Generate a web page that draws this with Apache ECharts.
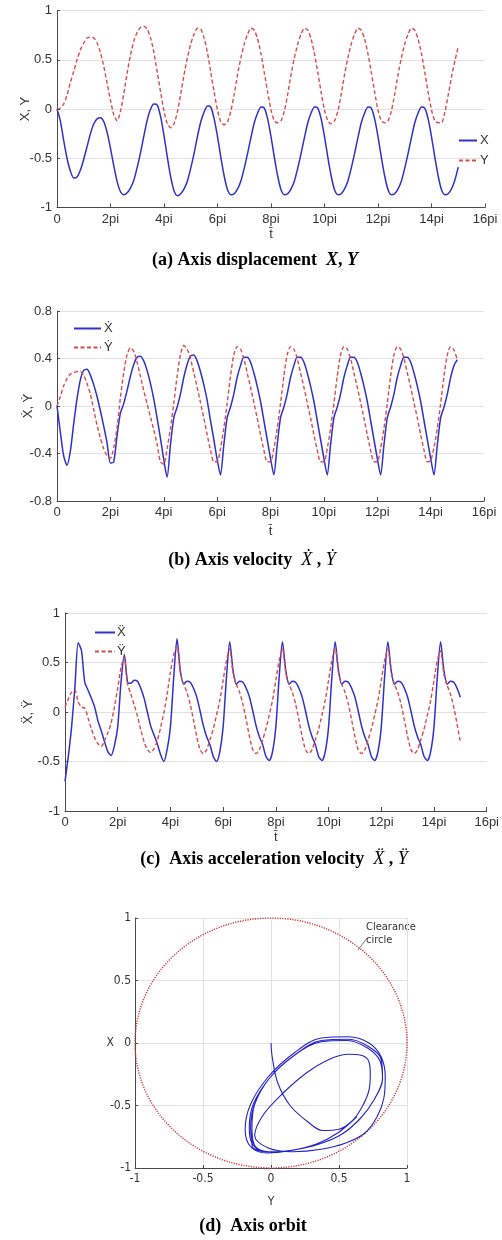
<!DOCTYPE html>
<html>
<head>
<meta charset="utf-8">
<script src="https://cdn.jsdelivr.net/npm/echarts@6/dist/echarts.min.js"></script>
<style>
html,body{margin:0;padding:0;background:#fff;}
#c{width:502px;height:1240px;}
</style>
</head>
<body>
<div id="c"></div>
<script>
// time sample spacing (in units of pi) for every time series below
const T_STEP = 0.125;
const tTickLabels = ['0','2pi','4pi','6pi','8pi','10pi','12pi','14pi','16pi'];

// (a) axis displacement
const dispX = [
  0,-0.12,-0.32,-0.50,-0.63,-0.70,-0.69,-0.62,-0.51,-0.38,-0.25,-0.15,-0.10,-0.09,-0.13,-0.24,-0.40,-0.58,-0.74,-0.84,
  -0.87,-0.85,-0.80,-0.72,-0.59,-0.44,-0.27,-0.11,0.00,0.05,0.04,-0.08,-0.27,-0.49,-0.69,-0.83,
  -0.88,-0.86,-0.81,-0.73,-0.60,-0.45,-0.28,-0.13,-0.03,0.03,0.02,-0.10,-0.28,-0.49,-0.68,-0.82,
  -0.87,-0.86,-0.81,-0.73,-0.60,-0.45,-0.29,-0.14,-0.04,0.02,0.01,-0.10,-0.28,-0.49,-0.68,-0.82,
  -0.87,-0.86,-0.81,-0.73,-0.60,-0.45,-0.29,-0.14,-0.04,0.02,0.01,-0.10,-0.28,-0.49,-0.68,-0.82,
  -0.87,-0.86,-0.81,-0.73,-0.60,-0.45,-0.29,-0.14,-0.04,0.02,0.01,-0.10,-0.28,-0.49,-0.68,-0.82,
  -0.87,-0.86,-0.81,-0.73,-0.60,-0.45,-0.29,-0.14,-0.04,0.02,0.01,-0.10,-0.28,-0.49,-0.68,-0.82,
  -0.87,-0.86,-0.81,-0.72,-0.59
];
const dispY = [
  0,0.01,0.05,0.14,0.27,0.38,0.50,0.60,0.67,0.72,0.73,0.72,0.67,0.57,0.43,0.26,0.09,-0.06,-0.12,-0.02,
  0.16,0.37,0.55,0.69,0.78,0.83,0.84,0.81,0.72,0.57,0.37,0.17,-0.02,-0.15,
  -0.19,-0.15,-0.03,0.15,0.35,0.52,0.66,0.76,0.82,0.81,0.72,0.57,0.37,0.17,-0.01,-0.13,
  -0.16,-0.13,-0.02,0.15,0.35,0.52,0.66,0.76,0.82,0.80,0.71,0.56,0.37,0.17,-0.01,-0.12,
  -0.14,-0.12,-0.02,0.15,0.35,0.52,0.66,0.76,0.82,0.80,0.71,0.56,0.37,0.17,-0.01,-0.12,
  -0.15,-0.12,-0.02,0.15,0.35,0.52,0.66,0.76,0.82,0.80,0.71,0.56,0.37,0.17,-0.01,-0.12,
  -0.14,-0.12,-0.02,0.15,0.35,0.52,0.66,0.76,0.82,0.80,0.71,0.56,0.37,0.17,-0.01,-0.12,
  -0.14,-0.14,-0.03,0.14,0.33,0.49,0.63
];

// (b) axis velocity
const velX = [
  0,-0.22,-0.42,-0.50,-0.38,-0.15,0.06,0.22,0.30,0.31,0.26,0.18,0.08,-0.04,-0.17,-0.31,-0.48,-0.47,-0.25,-0.06,
  0.02,0.13,0.25,0.35,0.41,0.42,0.38,0.30,0.19,0.06,-0.10,-0.27,-0.45,
  -0.60,-0.33,-0.10,-0.01,0.10,0.24,0.35,0.42,0.43,0.38,0.29,0.18,0.05,-0.12,-0.28,-0.45,
  -0.58,-0.33,-0.10,-0.01,0.10,0.24,0.34,0.41,0.41,0.37,0.28,0.17,0.04,-0.12,-0.28,-0.44,
  -0.58,-0.33,-0.10,-0.01,0.10,0.24,0.34,0.41,0.41,0.37,0.28,0.17,0.04,-0.12,-0.28,-0.44,
  -0.58,-0.33,-0.10,-0.01,0.10,0.24,0.34,0.41,0.41,0.37,0.28,0.17,0.04,-0.12,-0.28,-0.44,
  -0.58,-0.33,-0.10,-0.01,0.10,0.24,0.34,0.41,0.41,0.37,0.28,0.17,0.04,-0.12,-0.28,-0.44,
  -0.58,-0.33,-0.10,-0.01,0.10,0.24,0.34,0.39
];
const velY = [
  0,0.08,0.17,0.23,0.27,0.28,0.29,0.29,0.26,0.19,0.10,-0.03,-0.16,-0.27,-0.36,-0.42,-0.44,-0.35,-0.18,0.07,
  0.28,0.43,0.49,0.46,0.37,0.25,0.13,0.02,-0.09,-0.20,-0.32,
  -0.47,-0.49,-0.36,-0.19,0.02,0.25,0.43,0.51,0.48,0.40,0.28,0.16,0.03,-0.10,-0.24,-0.37,
  -0.47,-0.47,-0.36,-0.19,0.02,0.25,0.43,0.50,0.48,0.40,0.28,0.16,0.03,-0.10,-0.24,-0.37,
  -0.47,-0.47,-0.36,-0.19,0.02,0.25,0.43,0.50,0.48,0.40,0.28,0.16,0.03,-0.10,-0.24,-0.37,
  -0.47,-0.47,-0.36,-0.19,0.02,0.25,0.43,0.50,0.48,0.40,0.28,0.16,0.03,-0.10,-0.24,-0.37,
  -0.47,-0.47,-0.36,-0.19,0.02,0.25,0.43,0.50,0.48,0.40,0.28,0.16,0.03,-0.10,-0.24,-0.37,
  -0.47,-0.46,-0.35,-0.19,0.02,0.25,0.43,0.50,0.47,0.39
];

// (c) axis acceleration
const accX = [
  -0.70,-0.45,-0.15,0.25,0.70,0.62,0.30,0.22,0.14,0.05,-0.09,-0.19,-0.30,-0.40,-0.44,-0.34,-0.15,0.30,0.58,0.30,
  0.29,0.32,0.31,0.24,0.14,0.00,-0.14,-0.23,-0.32,-0.43,-0.50,-0.38,-0.15,0.35,
  0.74,0.42,0.28,0.31,0.30,0.24,0.15,0.01,-0.14,-0.25,-0.33,-0.45,-0.50,-0.40,-0.15,0.35,
  0.71,0.42,0.28,0.31,0.30,0.24,0.15,0.01,-0.14,-0.25,-0.33,-0.45,-0.49,-0.40,-0.15,0.35,
  0.71,0.42,0.28,0.31,0.30,0.24,0.15,0.01,-0.14,-0.25,-0.33,-0.45,-0.49,-0.40,-0.15,0.35,
  0.71,0.42,0.28,0.31,0.30,0.24,0.15,0.01,-0.14,-0.25,-0.33,-0.45,-0.49,-0.40,-0.15,0.35,
  0.71,0.42,0.28,0.31,0.30,0.24,0.15,0.01,-0.14,-0.25,-0.33,-0.45,-0.49,-0.40,-0.15,0.35,
  0.71,0.42,0.28,0.31,0.30,0.24,0.15
];
const accY = [
  0.05,0.13,0.20,0.22,0.10,0.05,0.04,-0.06,-0.17,-0.26,-0.32,-0.35,-0.29,-0.21,-0.11,0.05,0.24,0.45,0.55,0.28,
  0.18,0.07,-0.04,-0.18,-0.30,-0.38,-0.41,-0.37,-0.29,-0.16,-0.01,0.18,0.40,0.58,
  0.66,0.40,0.28,0.20,0.08,-0.08,-0.25,-0.38,-0.42,-0.38,-0.28,-0.17,-0.03,0.12,0.32,0.52,
  0.64,0.40,0.28,0.20,0.08,-0.08,-0.25,-0.38,-0.42,-0.38,-0.28,-0.17,-0.03,0.12,0.32,0.52,
  0.64,0.40,0.28,0.20,0.08,-0.08,-0.25,-0.38,-0.42,-0.38,-0.28,-0.17,-0.03,0.12,0.32,0.52,
  0.64,0.40,0.28,0.20,0.08,-0.08,-0.25,-0.38,-0.42,-0.38,-0.28,-0.17,-0.03,0.12,0.32,0.52,
  0.64,0.40,0.28,0.20,0.08,-0.08,-0.25,-0.38,-0.42,-0.38,-0.28,-0.17,-0.03,0.12,0.32,0.52,
  0.62,0.38,0.27,0.18,0.05,-0.12,-0.30
];

// (d) orbit: clearance circle radius
const clearanceRadius = 1;

const BLUE = '#3030cc';
const RED = '#dc4a4a';
const AX = '#4a4a4a';
const GRID = '#e2e2e2';
const SANS = 'Liberation Sans, Arial, sans-serif';
const NARROW = 'Liberation Sans Narrow, DejaVu Sans Condensed, Liberation Sans, sans-serif';
const SERIF = 'Liberation Serif, Times New Roman, serif';

function toPts(arr){ return arr.map((v,i)=>[i*T_STEP, v]); }
const orbit = dispY.map((y,i)=>[y, dispX[i]]);
const circle = [];
for (let k=0;k<=360;k++){ const a=k*Math.PI/180; circle.push([clearanceRadius*Math.cos(a), clearanceRadius*Math.sin(a)]); }

function tAxis(gi, gap){
  return {
    type:'value', gridIndex:gi, min:0, max:16, interval:2,
    axisLine:{show:true, onZero:false, lineStyle:{color:AX, width:1}},
    axisTick:{show:true, inside:true, length:4, lineStyle:{color:AX}},
    splitLine:{show:false},
    axisLabel:{fontFamily:SANS, fontSize:13, color:'#333', margin:5,
      formatter:(v)=>tTickLabels[Math.round(v/2)]},
    name:'t\u0304', nameLocation:'middle', nameGap:gap, nameMoveOverlap:false,
    nameTextStyle:{fontFamily:SANS, fontSize:13, color:'#333'}
  };
}
function vAxis(gi, mn, mx, iv, name, gap){
  return {
    type:'value', gridIndex:gi, min:mn, max:mx, interval:iv,
    axisLine:{show:true, onZero:false, lineStyle:{color:AX, width:1}},
    axisTick:{show:true, inside:true, length:3, lineStyle:{color:AX}},
    splitLine:{show:true, lineStyle:{color:GRID, width:1}},
    axisLabel:{fontFamily:SANS, fontSize:13, color:'#333', margin:5},
    name:name, nameLocation:'middle', nameGap:gap, nameRotate:90, nameMoveOverlap:false,
    nameTextStyle:{fontFamily:SANS, fontSize:13, color:'#333'}
  };
}
function lineSeries(name, gi, data, color, dashed){
  return {
    name:name, type:'line', xAxisIndex:gi, yAxisIndex:gi, data:data,
    symbol:'none', showSymbol:false, smooth:0.25,
    lineStyle:{color:color, width:dashed?1.4:1.5, type:dashed?[4,2.5]:'solid'},
    itemStyle:{color:color}, z:dashed?3:2
  };
}
const legendCommon = {orient:'vertical', itemHeight:12, itemStyle:{opacity:0}};

const chart = echarts.init(document.getElementById('c'), null, {renderer:'canvas'});
chart.setOption({
  animation:false,
  backgroundColor:'#fff',
  grid:[
    {left:57, top:10.5, width:428, height:197},
    {left:57, top:311, width:427, height:190},
    {left:65, top:613, width:422, height:198},
    {left:135, top:918, width:272, height:250}
  ],
  xAxis:[
    tAxis(0, 20),
    tAxis(1, 24),
    tAxis(2, 20),
    {type:'value', gridIndex:3, min:-1, max:1, interval:0.5,
     axisLine:{show:true, onZero:false, lineStyle:{color:AX}},
     axisTick:{show:true, inside:true, length:3, lineStyle:{color:AX}},
     splitLine:{show:true, lineStyle:{color:GRID}},
     axisLabel:{fontFamily:NARROW, fontSize:12, color:'#333', margin:5},
     name:'Y', nameLocation:'middle', nameGap:28, nameMoveOverlap:false,
     nameTextStyle:{fontFamily:NARROW, fontSize:12, color:'#333'}}
  ],
  yAxis:[
    vAxis(0, -1, 1, 0.5, 'X, Y', 25),
    vAxis(1, -0.8, 0.8, 0.4, '\u1E8A, \u1E8E', 22),
    vAxis(2, -1, 1, 0.5, '\u1E8C, \u0178', 30),
    {type:'value', gridIndex:3, min:-1, max:1, interval:0.5,
     axisLine:{show:true, onZero:false, lineStyle:{color:AX}},
     axisTick:{show:true, inside:true, length:3, lineStyle:{color:AX}},
     splitLine:{show:true, lineStyle:{color:GRID}},
     axisLabel:{fontFamily:NARROW, fontSize:12, color:'#333', margin:4},
     name:'X', nameLocation:'middle', nameGap:21, nameRotate:0, nameMoveOverlap:false,
     nameTextStyle:{fontFamily:NARROW, fontSize:12, color:'#333'}}
  ],
  legend:[
    Object.assign({data:['X','Y'], left:453, top:129, itemWidth:18, itemGap:7,
     textStyle:{fontFamily:SANS, fontSize:13, color:'#333', padding:[0,0,0,-2]}}, legendCommon),
    Object.assign({data:['\u1E8A','\u1E8E'], left:68, top:317, itemWidth:27, itemGap:6,
     textStyle:{fontFamily:SANS, fontSize:13, color:'#333', padding:[0,0,0,-2]}}, legendCommon),
    Object.assign({data:['\u1E8C','\u0178'], left:89, top:621, itemWidth:20, itemGap:6,
     textStyle:{fontFamily:SANS, fontSize:13, color:'#333', padding:[0,0,0,-3]}}, legendCommon)
  ],
  series:[
    lineSeries('X', 0, toPts(dispX), BLUE, false),
    lineSeries('Y', 0, toPts(dispY), RED, true),
    lineSeries('\u1E8A', 1, toPts(velX), BLUE, false),
    lineSeries('\u1E8E', 1, toPts(velY), RED, true),
    lineSeries('\u1E8C', 2, toPts(accX), BLUE, false),
    lineSeries('\u0178', 2, toPts(accY), RED, true),
    {name:'Clearance circle', type:'line', xAxisIndex:3, yAxisIndex:3, data:circle,
     symbol:'none', smooth:false, lineStyle:{color:'#d23c3c', width:1.5, type:[1.2,1.3]}, z:2},
    {name:'Orbit', type:'line', xAxisIndex:3, yAxisIndex:3, data:orbit,
     symbol:'none', smooth:0.35, lineStyle:{color:'#2424c8', width:1.1}, z:3}
  ],
  graphic:[
    {type:'text', x:255, y:260, style:{text:'{b|(a) Axis displacement  }{bi|X}{b|, }{bi|Y}', align:'center', verticalAlign:'middle',
      rich:{b:{fontFamily:SERIF, fontWeight:'bold', fontSize:18, fill:'#000'}, bi:{fontFamily:SERIF, fontWeight:'bold', fontStyle:'italic', fontSize:18, fill:'#000'}}}},
    {type:'text', x:252, y:560, style:{text:'{b|(b) Axis velocity  }{i|\u1E8A}{b| , }{i|\u1E8E}', align:'center', verticalAlign:'middle',
      rich:{b:{fontFamily:SERIF, fontWeight:'bold', fontSize:18, fill:'#000'}, i:{fontFamily:SERIF, fontStyle:'italic', fontSize:18, fill:'#000'}}}},
    {type:'text', x:274, y:859, style:{text:'{b|(c)  Axis acceleration velocity  }{i|\u1E8C}{b| , }{i|\u0178}', align:'center', verticalAlign:'middle',
      rich:{b:{fontFamily:SERIF, fontWeight:'bold', fontSize:18, fill:'#000'}, i:{fontFamily:SERIF, fontStyle:'italic', fontSize:18, fill:'#000'}}}},
    {type:'text', x:253, y:1226, style:{text:'{b|(d)  Axis orbit}', align:'center', verticalAlign:'middle',
      rich:{b:{fontFamily:SERIF, fontWeight:'bold', fontSize:18, fill:'#000'}}}},
    {type:'text', x:366, y:921, style:{text:'Clearance\ncircle', fontFamily:NARROW, fontSize:11, fill:'#333', lineHeight:13, align:'left', verticalAlign:'top'}},
    {type:'line', shape:{x1:358, y1:950, x2:367, y2:938}, style:{stroke:'#555', lineWidth:0.8}}
  ]
});
</script>
</body>
</html>
